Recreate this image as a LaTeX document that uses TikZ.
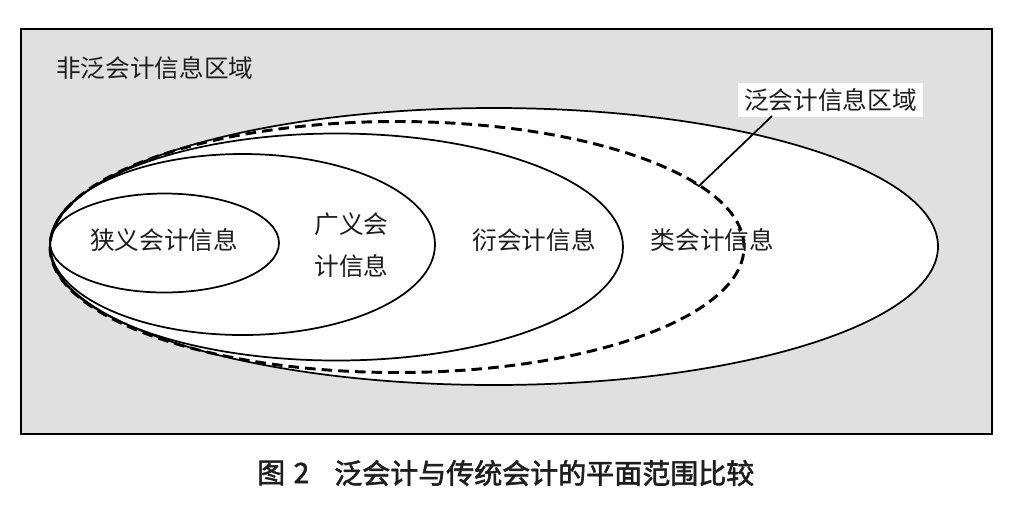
\documentclass[tikz,border=0pt]{standalone}
\usepackage{fontspec}
\newfontfamily\cjk{Noto Sans CJK SC}
\newfontfamily\cjkcap[FakeBold=2]{Noto Sans CJK SC}
\usetikzlibrary{shapes.geometric}
\definecolor{bggray}{RGB}{224,224,224}
\definecolor{ink}{RGB}{30,30,30}
\tikzset{
  oval/.style={ellipse, draw=black, line width=1.3pt, inner sep=0pt, fill=white},
  dashoval/.style={ellipse, draw=black, line width=2.2pt, inner sep=0pt, dash pattern=on 8pt off 4.5pt},
  lbl/.style={inner sep=0pt, text=ink, font=\cjk\fontsize{18.5pt}{31.5pt}\selectfont},
  captext/.style={inner sep=0pt, text=ink, font=\cjkcap\fontsize{21pt}{24pt}\selectfont},
}
\begin{document}
\begin{tikzpicture}[x=0.75pt,y=-0.75pt]
\useasboundingbox (0,0) rectangle (1023,512);
\fill[white] (0,0) rectangle (1023,512);
\draw[fill=bggray, line width=1.5pt] (21,29) rectangle (992,434);
% ellipses
\node[oval, minimum width=666pt, minimum height=207.75pt] (big) at (494,246.5) {};
\node[dashoval, minimum width=520.5pt, minimum height=188.25pt] (dash) at (397,247) {};
\node[oval, fill=none, minimum width=429.75pt, minimum height=170.25pt] (yan) at (336.5,247) {};
\node[oval, fill=none, minimum width=288.75pt, minimum height=135.75pt] (guang) at (242.5,244.5) {};
\node[oval, fill=none, minimum width=171.75pt, minimum height=74.25pt] (xia) at (164.5,243) {};
% texts
\node[lbl, anchor=west] (non) at (56,68) {非泛会计信息区域};
\node[lbl] (xiat) at (164,240) {狭义会计信息};
\node[lbl, align=center] (guangt) at (351.5,245) {广义会\\计信息};
\node[lbl] (yant) at (534,240) {衍会计信息};
\node[lbl] (leit) at (712.5,240) {类会计信息};
\node[lbl, fill=white, minimum width=138.75pt, minimum height=25.5pt] (fan) at (830.5,100) {泛会计信息区域};
% leader
\coordinate (lstart) at (772,116);
\coordinate (ltip) at (699,186);
\coordinate (ltick) at (693,182.5);
\draw[line width=1.3pt] (lstart) -- (ltip) -- (ltick);
% caption
\node[captext, anchor=west] (fig) at (257,473) {图\hspace{0.3em}2};
\node[captext, anchor=west] (capt) at (334,473) {泛会计与传统会计的平面范围比较};
\end{tikzpicture}
\end{document}
